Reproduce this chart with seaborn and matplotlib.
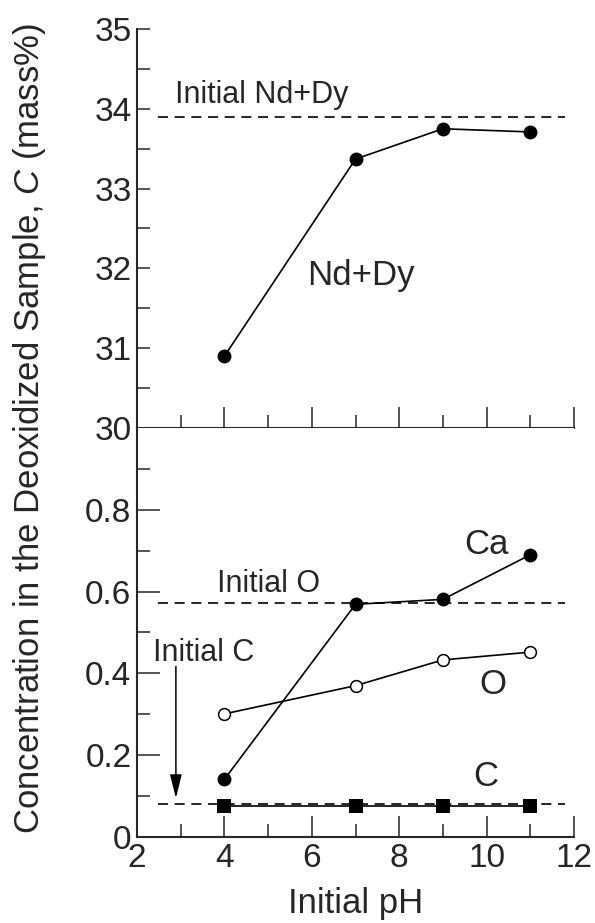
import matplotlib
matplotlib.use("Agg")
import matplotlib.pyplot as plt
import seaborn as sns
import numpy as np
import pandas as pd

# ---- data ----
ph = [4, 7, 9, 11]
nd_dy = [30.90, 33.37, 33.75, 33.71]
ca = [0.141, 0.569, 0.581, 0.690]
oxy = [0.301, 0.370, 0.433, 0.452]
carbon = [0.077, 0.077, 0.077, 0.077]
initial_nd_dy = 33.90
initial_o = 0.571
initial_c = 0.080
x_ticks = [2, 4, 6, 8, 10, 12]
top_yticks = [30, 31, 32, 33, 34, 35]
bot_yticks = [0, 0.2, 0.4, 0.6, 0.8]
bot_yticklabels = ["0", "0.2", "0.4", "0.6", "0.8"]

sns.set_style("ticks")
plt.rcParams['font.family'] = ['Liberation Sans', 'DejaVu Sans']
plt.rcParams['mathtext.fontset'] = 'custom'
plt.rcParams['mathtext.it'] = 'Liberation Sans:italic'
plt.rcParams['mathtext.rm'] = 'Liberation Sans'

fig = plt.figure(figsize=(5.95, 9.23), dpi=100)
W, H = 595, 923
left = 137 / W
width = (574 - 137) / W
ax_top = fig.add_axes([left, (H - 428) / H, width, (428 - 29) / H])
ax_bot = fig.add_axes([left, (H - 837) / H, width, (837 - 428) / H])

df = pd.DataFrame({"pH": ph, "NdDy": nd_dy, "Ca": ca, "O": oxy, "C": carbon})

lw = 1.2
# top panel
sns.lineplot(data=df, x="pH", y="NdDy", ax=ax_top, color="k", lw=lw, marker="o",
             markersize=10, markerfacecolor="k", markeredgecolor="k", markeredgewidth=0,
             estimator=None)
ax_top.hlines(initial_nd_dy, 2.48, 11.79, colors="k", lw=lw, linestyles=(0, (6, 4)))

# bottom panel
ax_bot.hlines([initial_o, initial_c], 2.48, 11.79, colors="k", lw=lw, linestyles=(0, (6, 4)))
sns.lineplot(data=df, x="pH", y="Ca", ax=ax_bot, color="k", lw=lw, marker="o",
             markersize=10, markerfacecolor="k", markeredgecolor="k", markeredgewidth=0,
             estimator=None)
sns.lineplot(data=df, x="pH", y="O", ax=ax_bot, color="k", lw=lw, marker="o",
             markersize=8.5, markerfacecolor="white", markeredgecolor="k", markeredgewidth=1.1,
             estimator=None)
sns.lineplot(data=df, x="pH", y="C", ax=ax_bot, color="k", lw=lw, marker="s",
             markersize=10, markerfacecolor="k", markeredgecolor="k", markeredgewidth=0,
             estimator=None)

for ax in (ax_top, ax_bot):
    ax.set_xlim(2, 12)
    ax.set_xticks(x_ticks)
    ax.set_xticks(np.arange(3, 12, 2), minor=True)
    ax.spines['right'].set_visible(False)
    ax.spines['top'].set_visible(False)
    ax.spines['left'].set_linewidth(1.5)
    ax.spines['bottom'].set_linewidth(1.5)
    ax.tick_params(axis='x', which='major', direction='in', length=15, width=1.1,
                   labelsize=24, pad=4)
    ax.tick_params(axis='x', which='minor', direction='in', length=9.4, width=1.1)
    ax.set_xlabel("")
    ax.set_ylabel("")

ax_top.set_ylim(30, 35)
ax_top.set_yticks(top_yticks)
ax_top.set_yticks(np.arange(30.5, 35, 1), minor=True)
ax_top.tick_params(axis='y', which='both', direction='in', length=9.4, width=1.1,
                   labelsize=24, pad=4)
ax_top.tick_params(axis='x', labelbottom=False)

ax_bot.set_ylim(0, 1.0)
ax_bot.set_yticks(bot_yticks)
ax_bot.set_yticklabels(bot_yticklabels)
ax_bot.set_yticks(np.arange(0.1, 1.0, 0.2), minor=True)
ax_bot.tick_params(axis='y', which='major', direction='in', length=16.5, width=1.1,
                   labelsize=24, pad=4)
ax_bot.tick_params(axis='y', which='minor', direction='in', length=9.4, width=1.1)
ax_bot.set_xlabel("Initial pH", fontsize=25, labelpad=10)

# annotations
ax_top.text(2.87, 34.075, "Initial Nd+Dy", fontsize=22, ha="left", va="baseline")
ax_top.text(5.89, 31.79, "Nd+Dy", fontsize=25, ha="left", va="baseline")
ax_bot.text(3.83, 0.598, "Initial O", fontsize=22, ha="left", va="baseline")
ax_bot.text(2.37, 0.431, "Initial C", fontsize=22, ha="left", va="baseline")
ax_bot.text(9.99, 0.714, "Ca", fontsize=25, ha="center", va="center")
ax_bot.text(10.15, 0.373, "O", fontsize=25, ha="center", va="center")
ax_bot.text(9.99, 0.147, "C", fontsize=25, ha="center", va="center")
ax_bot.annotate("", xy=(2.89, 0.095), xytext=(2.89, 0.417),
                arrowprops=dict(arrowstyle="-|>,head_length=1.0,head_width=0.25",
                                mutation_scale=14.4, color="k", lw=1.1,
                                shrinkA=0, shrinkB=0))

fig.text(30 / W, (H - 428) / H, "Concentration in the Deoxidized Sample, $\\mathit{C}$ (mass%)",
         rotation=90, fontsize=25, ha="center", va="center")

fig.savefig("out.png", dpi=100)
